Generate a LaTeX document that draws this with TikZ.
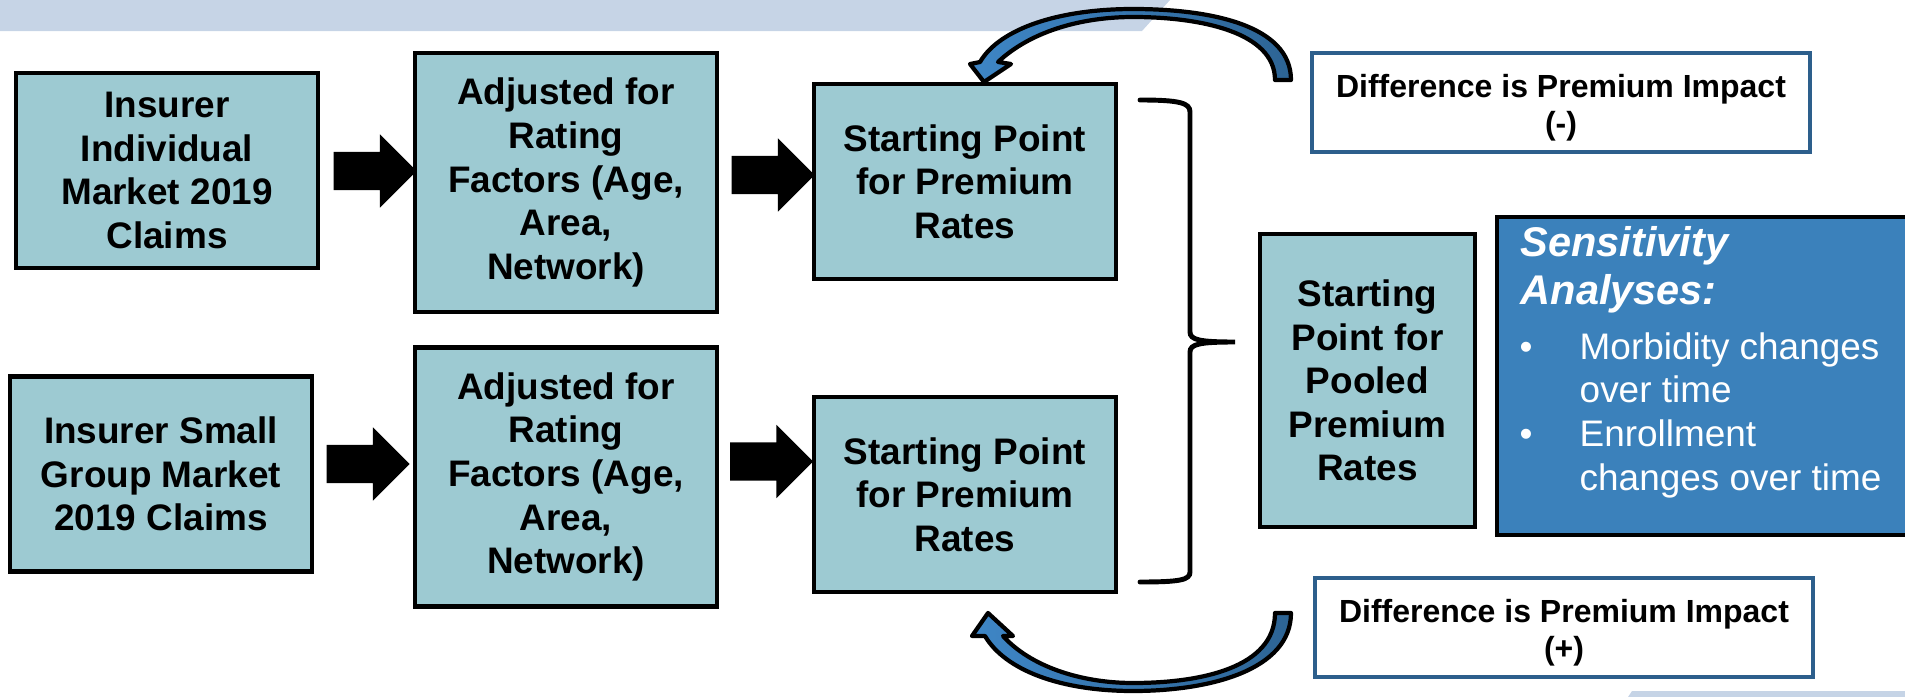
\documentclass[tikz,border=0pt]{standalone}
\usepackage{fontspec}
\setmainfont{Liberation Sans}
\usetikzlibrary{shapes.arrows}

\definecolor{boxteal}{RGB}{157,202,210}
\definecolor{sensblue}{RGB}{59,129,187}
\definecolor{diffblue}{RGB}{45,95,140}
\definecolor{bandblue}{RGB}{198,212,230}
\definecolor{arrowlight}{RGB}{62,134,198}
\definecolor{arrowdark}{RGB}{45,100,148}

\begin{document}
\begin{tikzpicture}[x=0.01cm, y=-0.01cm,
    stepbox/.style={draw=black, line width=1.3pt, fill=boxteal, align=center,
      inner sep=0pt, minimum width=3.02cm, minimum height=1.95cm,
      font=\bfseries\fontsize{10.5}{12.4}\selectfont},
    tallbox/.style={stepbox, minimum height=2.59cm},
    diffbox/.style={draw=diffblue, line width=1.1pt, fill=white, align=center,
      minimum width=4.98cm, minimum height=0.99cm, inner sep=0pt,
      font=\bfseries\fontsize{9.1}{10.6}\selectfont},
    fatarrow/.style={single arrow, fill=black, inner xsep=0pt, inner ysep=0.185cm,
      minimum height=0.83cm, single arrow head extend=0.175cm},
    curvearrow/.style={draw=black, line width=1.2pt, line join=round,
      left color=arrowlight, right color=arrowdark}]

      \useasboundingbox (0,0) rectangle (1905,697);

      % background bands
      \fill[bandblue] (0,0) -- (1170,0) -- (1142,31) -- (0,31) -- cycle;
      \fill[bandblue] (1632,691) -- (1905,691) -- (1905,697) -- (1628,697) -- cycle;

      \begin{scope}[every node/.style={stepbox}]
        \node (indiv)  at (167,170.5) {Insurer\\Individual\\Market 2019\\Claims};
        \node[tallbox] (adjtop) at (566,182.5) {Adjusted for\\Rating\\Factors (Age,\\Area,\\Network)};
        \node (starttop) at (965,181.5) {Starting Point\\for Premium\\Rates};
        \node (small)  at (161,474) {Insurer Small\\Group Market\\2019 Claims};
        \node[tallbox] (adjbot) at (566,477) {Adjusted for\\Rating\\Factors (Age,\\Area,\\Network)};
        \node (startbot) at (965,494.5) {Starting Point\\for Premium\\Rates};
        \node[minimum width=2.15cm, minimum height=2.93cm] (pooled) at (1367.5,380.5)
          {Starting\\Point for\\Pooled\\Premium\\Rates};
        \node[fill=sensblue, minimum width=4.33cm, minimum height=3.18cm] (sens) at (1713.5,376) {};
      \end{scope}

      % sensitivity text
      \node[anchor=base west, inner sep=0pt, text=white,
        font=\bfseries\itshape\fontsize{11.8}{13.7}\selectfont] (senshead) at (1520,256)
        {\begin{tabular}[t]{@{}l@{}}Sensitivity\\Analyses:\end{tabular}};
      \node[anchor=base west, inner sep=0pt, text=white,
        font=\fontsize{10.5}{12.5}\selectfont] (senslist) at (1519,359)
        {\begin{tabular}[t]{@{}p{0.60cm}@{}l@{}}
          \textbullet & Morbidity changes\\
                      & over time\\
          \textbullet & Enrollment\\
                      & changes over time
        \end{tabular}};

      % difference boxes
      \node[diffbox] (difftop) at (1561,102.5) {\rule{0pt}{9.5pt}Difference is Premium Impact\\(-)};
      \node[diffbox] (diffbot) at (1564,627.5) {\rule{0pt}{9.5pt}Difference is Premium Impact\\(+)};

      % block arrows
      \node[fatarrow] (a1) at (365.5,171) {};
      \node[fatarrow] (a2) at (763.5,175) {};
      \node[fatarrow] (a3) at (358.5,464) {};
      \node[fatarrow] (a4) at (762,461.5) {};

      % brace
      \draw[line width=1.4pt, line cap=round]
        (1140,100) .. controls (1180,100) and (1190,103) .. (1190,112) -- (1190,332)
        .. controls (1190,340) and (1200,342) .. (1235,342)
        .. controls (1200,342) and (1190,344) .. (1190,352) -- (1190,572)
        .. controls (1190,580) and (1180,582) .. (1140,582);

      % curved arrows
      \draw[curvearrow] (1291,80) .. controls (1291,25) and (1210,9) .. (1133,9)
        .. controls (1060,9) and (1000,28) .. (980,62) -- (970,64) -- (984,82)
        -- (1011,64) -- (998,62) .. controls (1030,32) and (1080,17) .. (1133,17)
        .. controls (1200,17) and (1275,32) .. (1275,80) -- cycle;
      \draw[curvearrow] (1291,613) .. controls (1291,670) and (1210,691) .. (1133,691)
        .. controls (1060,691) and (1005,670) .. (985,636) -- (972,636) -- (988,613)
        -- (1013,636) -- (1003,636) .. controls (1030,666) and (1080,683) .. (1133,683)
        .. controls (1200,683) and (1275,668) .. (1275,613) -- cycle;

    \end{tikzpicture}
\end{document}
